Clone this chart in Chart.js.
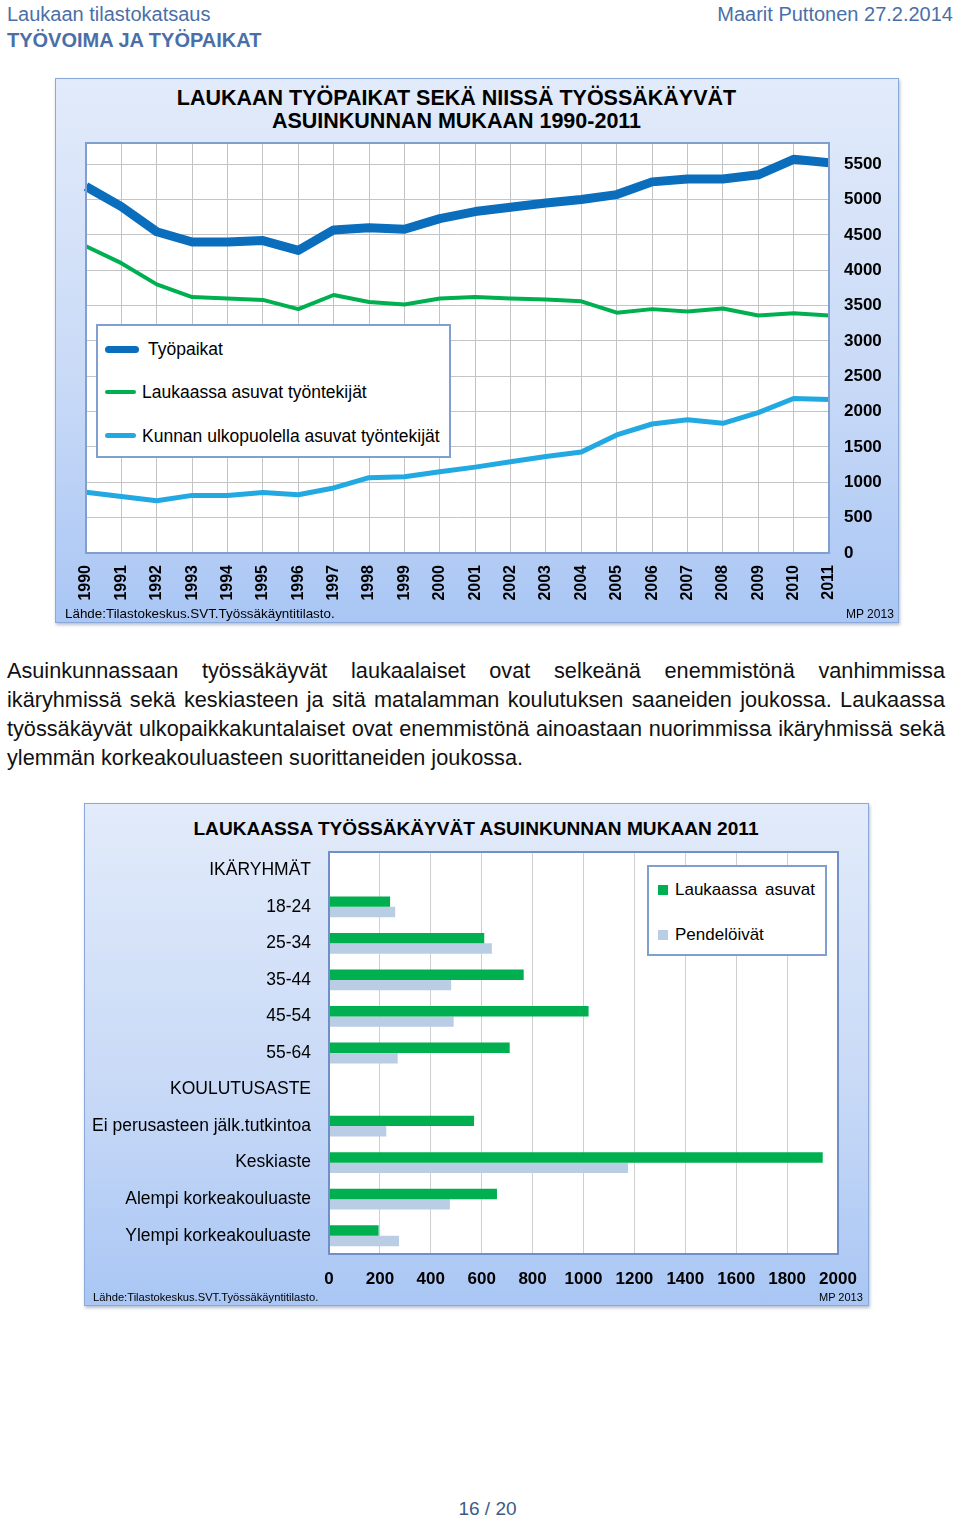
<!DOCTYPE html>
<html><head><meta charset="utf-8">
<script src="https://cdn.jsdelivr.net/npm/chart.js@4.4.1/dist/chart.umd.min.js"></script>
<style>
body{margin:0;background:#fff;font-family:"Liberation Sans",Arial,sans-serif;}
#page{position:relative;width:960px;height:1520px;overflow:hidden;}
.abs{position:absolute;}
.hdr{color:#4a6fa8;font-size:20px;white-space:nowrap;}
.box{position:absolute;border:1px solid #8aa8d8;box-shadow:1px 2px 3px rgba(90,110,150,0.45);
 background:linear-gradient(to bottom,#e2ebfa 0%,#c9daf7 55%,#a9c6f4 100%);}
.title{position:absolute;font-weight:bold;color:#000;text-align:center;white-space:nowrap;}
.src{position:absolute;color:#000;white-space:nowrap;}
.para{position:absolute;left:7px;width:938px;font-size:21.7px;color:#111;}
.para div{text-align:justify;text-align-last:justify;height:29px;line-height:29px;white-space:nowrap;}
.para div.last{text-align-last:left;}
.leg{position:absolute;background:#fff;border:2px solid #7f9fcf;box-sizing:border-box;}
.li{position:absolute;white-space:nowrap;color:#000;line-height:20px;}
</style></head>
<body><div id="page">
<div class="abs hdr" style="left:7px;top:3px;">Laukaan tilastokatsaus</div>
<div class="abs hdr" style="left:7px;top:29px;font-weight:bold;">TYÖVOIMA JA TYÖPAIKAT</div>
<div class="abs hdr" style="right:7px;top:3px;">Maarit Puttonen 27.2.2014</div>

<div class="box" style="left:55px;top:78px;width:842px;height:543px;"></div>
<div class="title" style="left:55px;width:803px;top:87px;font-size:21.5px;line-height:23px;">LAUKAAN TYÖPAIKAT SEKÄ NIISSÄ TYÖSSÄKÄYVÄT<br>ASUINKUNNAN MUKAAN 1990-2011</div>
<div class="abs" style="left:55px;top:78px;width:843px;height:544px;"><canvas id="c1"></canvas></div>
<div class="leg" style="left:96px;top:324px;width:355px;height:134px;">
  <div class="abs" style="left:7px;top:20px;width:34px;height:7px;border-radius:4px;background:#0a6ebd;"></div>
  <div class="li" style="left:50px;top:13px;font-size:17.5px;">Työpaikat</div>
  <div class="abs" style="left:7px;top:64px;width:31px;height:4px;border-radius:2px;background:#00b050;"></div>
  <div class="li" style="left:44px;top:56px;font-size:17.5px;">Laukaassa asuvat työntekijät</div>
  <div class="abs" style="left:7px;top:107px;width:31px;height:5px;border-radius:3px;background:#22a9e2;"></div>
  <div class="li" style="left:44px;top:100px;font-size:17.5px;">Kunnan ulkopuolella asuvat työntekijät</div>
</div>
<div class="src" style="left:65px;top:606px;font-size:13.4px;">Lähde:Tilastokeskus.SVT.Työssäkäyntitilasto.</div>
<div class="src" style="left:846px;top:607px;font-size:12px;">MP 2013</div>

<div class="para" style="top:656px;">
<div>Asuinkunnassaan työssäkäyvät laukaalaiset ovat selkeänä enemmistönä vanhimmissa</div>
<div>ikäryhmissä sekä keskiasteen ja sitä matalamman koulutuksen saaneiden joukossa. Laukaassa</div>
<div>työssäkäyvät ulkopaikkakuntalaiset ovat enemmistönä ainoastaan nuorimmissa ikäryhmissä sekä</div>
<div class="last">ylemmän korkeakouluasteen suorittaneiden joukossa.</div>
</div>

<div class="box" style="left:84px;top:803px;width:783px;height:501px;"></div>
<div class="title" style="left:84px;width:784px;top:817px;font-size:19.1px;line-height:23px;">LAUKAASSA TYÖSSÄKÄYVÄT ASUINKUNNAN MUKAAN 2011</div>
<div class="abs" style="left:84px;top:803px;width:784px;height:502px;"><canvas id="c2"></canvas></div>
<div class="leg" style="left:647px;top:865px;width:180px;height:91px;">
  <div class="abs" style="left:9px;top:18px;width:10px;height:10px;background:#00b050;"></div>
  <div class="li" style="left:26px;top:13px;font-size:17px;word-spacing:3px;">Laukaassa asuvat</div>
  <div class="abs" style="left:9px;top:63px;width:10px;height:10px;background:#b9cde5;"></div>
  <div class="li" style="left:26px;top:58px;font-size:17px;">Pendelöivät</div>
</div>
<div class="src" style="left:93px;top:1291px;font-size:11.2px;">Lähde:Tilastokeskus.SVT.Työssäkäyntitilasto.</div>
<div class="src" style="left:819px;top:1291px;font-size:11px;">MP 2013</div>

<div class="abs" style="left:0;width:975px;top:1498px;text-align:center;font-size:19px;color:#3b5b86;">16 / 20</div>
</div>
<script>
// ---- Chart 1 data ----
const years = ['1990','1991','1992','1993','1994','1995','1996','1997','1998','1999','2000','2001','2002','2003','2004','2005','2006','2007','2008','2009','2010','2011'];
const tyopaikat = [5185,4900,4545,4400,4400,4420,4280,4570,4600,4580,4730,4830,4890,4950,5000,5070,5250,5290,5290,5350,5570,5520];
const laukaassaAsuvat = [4340,4100,3800,3620,3600,3580,3450,3650,3550,3515,3600,3620,3600,3585,3560,3400,3450,3415,3460,3360,3390,3360];
const ulkopuolella = [860,800,740,815,815,855,825,920,1065,1080,1150,1215,1290,1365,1430,1670,1825,1885,1835,1985,2185,2170];
const yTicks1 = [0,500,1000,1500,2000,2500,3000,3500,4000,4500,5000,5500];
const yMax1 = 5800;

// ---- Chart 2 data ----
const groups = ['IKÄRYHMÄT','18-24','25-34','35-44','45-54','55-64','KOULUTUSASTE','Ei perusasteen jälk.tutkintoa','Keskiaste','Alempi korkeakouluaste','Ylempi korkeakouluaste'];
const asuvat2011 = [null,240,610,765,1020,710,null,570,1940,660,195];
const pendeloivat2011 = [null,260,640,480,490,270,null,225,1175,475,275];
const xMax2 = 2000, xStep2 = 200;

Chart.defaults.font.family = '"Liberation Sans", Arial, sans-serif';
Chart.defaults.color = '#000';

const plotBg = {
  id:'plotBg',
  beforeDraw(chart){const a=chart.chartArea,c=chart.ctx;c.save();c.fillStyle='#fff';c.fillRect(a.left,a.top,a.right-a.left,a.bottom-a.top);c.restore();},
  afterDraw(chart){const a=chart.chartArea,c=chart.ctx;c.save();c.strokeStyle=chart.options.plugins.plotBg.color;c.lineWidth=2;c.strokeRect(a.left,a.top,a.right-a.left,a.bottom-a.top);c.restore();}
};

new Chart(document.getElementById('c1'), {
  type:'line',
  data:{labels:years,datasets:[
    {label:'Työpaikat',data:tyopaikat,borderColor:'#0a6ebd',borderWidth:9,order:1},
    {label:'Laukaassa asuvat työntekijät',data:laukaassaAsuvat,borderColor:'#00b050',borderWidth:4,order:2},
    {label:'Kunnan ulkopuolella asuvat työntekijät',data:ulkopuolella,borderColor:'#22a9e2',borderWidth:5,order:3}
  ]},
  plugins:[plotBg],
  options:{
    responsive:true,maintainAspectRatio:false,animation:false,
    layout:{padding:{left:31,top:65,right:0,bottom:0}},
    elements:{point:{radius:0},line:{tension:0,borderJoinStyle:'round'}},
    plugins:{legend:{display:false},tooltip:{enabled:false},plotBg:{color:'#7f9fcf'}},
    scales:{
      x:{offset:false,grid:{color:'#c4c4c4',drawTicks:false},border:{display:false},
         ticks:{minRotation:90,maxRotation:90,padding:12,font:{size:16,weight:'bold'},autoSkip:false},
         afterFit(s){s.height=69;}},
      y:{position:'right',min:0,max:yMax1,grid:{color:'#c4c4c4',drawTicks:false},border:{display:false},
         ticks:{padding:15,font:{size:17,weight:'bold'},autoSkip:false,callback:(v)=>String(v)},
         afterBuildTicks(s){s.ticks=yTicks1.map(v=>({value:v}));},
         afterFit(s){s.width=69;}}
    }
  }
});

new Chart(document.getElementById('c2'), {
  type:'bar',
  data:{labels:groups,datasets:[
    {label:'Laukaassa asuvat',data:asuvat2011,backgroundColor:'#00b050'},
    {label:'Pendelöivät',data:pendeloivat2011,backgroundColor:'#b9cde5'}
  ]},
  plugins:[plotBg],
  options:{
    indexAxis:'y',responsive:true,maintainAspectRatio:false,animation:false,
    layout:{padding:{left:0,top:49,right:30,bottom:0}},
    datasets:{bar:{categoryPercentage:0.57,barPercentage:1.0}},
    plugins:{legend:{display:false},tooltip:{enabled:false},plotBg:{color:'#6f90c4'}},
    scales:{
      x:{min:0,max:xMax2,grid:{color:'#cfcfcf',drawTicks:false},border:{display:false},
         ticks:{stepSize:xStep2,padding:15,font:{size:17,weight:'bold'},callback:(v)=>String(v)},
         afterFit(s){s.height=51;s.paddingRight=0;s.paddingLeft=0;}},
      y:{grid:{display:false,drawTicks:false},border:{display:false},
         ticks:{padding:18,font:{size:17.5},autoSkip:false},
         afterFit(s){s.width=245;s.paddingTop=0;s.paddingBottom=0;}}
    }
  }
});
</script>
</body></html>
